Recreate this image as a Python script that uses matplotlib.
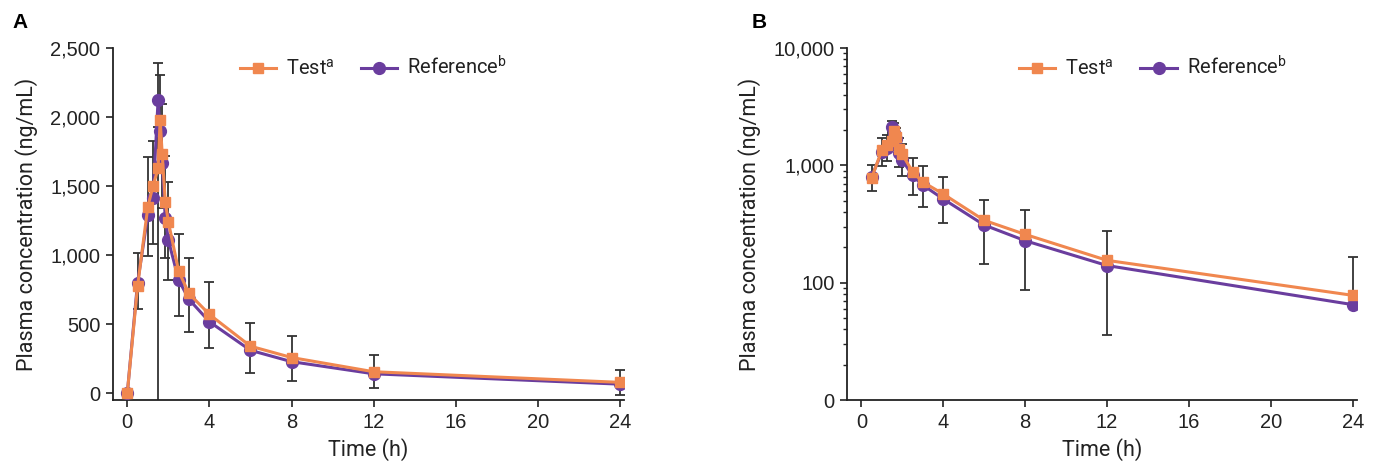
import numpy as np
import matplotlib.pyplot as plt
from matplotlib.ticker import FuncFormatter, LogLocator, NullFormatter

plt.rcParams['font.family'] = ['Roboto', 'DejaVu Sans']
plt.rcParams['mathtext.fontset'] = 'custom'
plt.rcParams['mathtext.rm'] = 'Roboto'

# time points (h)
times = np.array([0, 0.5, 1, 1.25, 1.5, 1.6, 1.7, 1.85, 2, 2.5, 3, 4, 6, 8, 12, 24])

# mean plasma concentrations (ng/mL)
test_mean = np.array([0, 775, 1350, 1500, 1628, 1978, 1732, 1386, 1241, 884, 722, 570, 340, 258, 155, 78])
ref_mean = np.array([0, 800, 1290, 1411, 2123, 1898, 1664, 1266, 1109, 820, 680, 517, 310, 228, 140, 65])

# standard deviations (test drawn upward, reference downward)
test_sd = np.array([0, 240, 360, 330, 300, 330, 360, 330, 290, 270, 260, 232, 167, 155, 120, 89])
ref_sd = np.array([0, 190, 300, 330, 270, 300, 320, 290, 290, 260, 236, 193, 165, 141, 104, 80])
# reference upward error at the 1.5 h peak
ref_sd_up = np.array([0, 0, 0, 0, 270, 0, 0, 0, 0, 0, 0, 0, 0, 0, 0, 0])
# lower error of reference in panel A (stray long bar at 1.5 h)
ref_sd_lo_a = ref_sd.copy()
ref_sd_lo_a[4] = 2300

ORANGE = '#F0874F'
PURPLE = '#6A3D9E'
ERR = '#333333'
TXT = '#222222'

fig = plt.figure(figsize=(13.79, 4.71), dpi=100)
axA = fig.add_axes([0.0819, 0.1507, 0.3706, 0.7473])
axB = fig.add_axes([0.6142, 0.1507, 0.3698, 0.7473])


def style_axis(ax):
    for s in ['top', 'right']:
        ax.spines[s].set_visible(False)
    for s in ['left', 'bottom']:
        ax.spines[s].set_linewidth(1.3)
        ax.spines[s].set_color('#222222')
    ax.tick_params(axis='both', which='major', direction='out', length=5, width=1.2,
                   labelsize=14.5, colors='#222222', labelcolor=TXT, pad=4)
    for lab in ax.get_xticklabels() + ax.get_yticklabels():
        lab.set_family(['Liberation Sans', 'DejaVu Sans'])
    ax.set_xlabel('Time (h)', fontsize=15.5, color=TXT, labelpad=5)
    ax.set_ylabel('Plasma concentration (ng/mL)', fontsize=15.5, color=TXT, labelpad=9)


def draw_series(ax, t, test, test_err, ref, ref_err):
    ax.errorbar(t, ref, yerr=ref_err, fmt='none', ecolor=ERR, elinewidth=1.3,
                capsize=3.5, capthick=1.3, zorder=2)
    ax.errorbar(t, test, yerr=test_err, fmt='none', ecolor=ERR, elinewidth=1.3,
                capsize=3.5, capthick=1.3, zorder=2)
    ax.plot(t, ref, color=PURPLE, lw=2.2, marker='o', markersize=8.5,
            label='Reference$^{\\mathrm{b}}$', zorder=3)
    ax.plot(t, test, color=ORANGE, lw=2.2, marker='s', markersize=7.5,
            label='Test$^{\\mathrm{a}}$', zorder=4)


def add_legend(ax, x):
    h, l = ax.get_legend_handles_labels()
    ax.legend(h[::-1], l[::-1], loc='center', bbox_to_anchor=(x, 0.946), ncol=2,
              frameon=False, fontsize=14.5, handlelength=1.8, columnspacing=1.3,
              handletextpad=0.5, labelcolor=TXT)


def one_sided(mean, lo, up):
    # hide lower bars that would drop below zero on the log axis
    return [np.where(mean - lo > 0, lo, 0), up]


# Panel A - linear
draw_series(axA, times, test_mean, [np.zeros_like(test_sd), test_sd],
            ref_mean, [ref_sd_lo_a, ref_sd_up])
axA.set_xlim(-0.7, 24.2)
axA.set_ylim(-50, 2500)
axA.set_xticks(np.arange(0, 25, 4))
axA.set_yticks(np.arange(0, 2501, 500))
axA.yaxis.set_major_formatter(FuncFormatter(lambda v, p: f'{v:,.0f}'))
style_axis(axA)
add_legend(axA, 0.51)

# Panel B - log (time 0 is left out)
tb = times[1:]
draw_series(axB, tb, test_mean[1:], [np.zeros_like(tb), test_sd[1:]],
            ref_mean[1:], one_sided(ref_mean[1:], ref_sd[1:], ref_sd_up[1:]))
axB.set_yscale('log')
axB.set_xlim(-0.7, 24.2)
axB.set_ylim(10, 10000)
axB.set_xticks(np.arange(0, 25, 4))
axB.set_yticks([10, 100, 1000, 10000])
axB.yaxis.set_minor_locator(LogLocator(base=10, subs=np.arange(2, 10)))
axB.yaxis.set_minor_formatter(NullFormatter())
axB.yaxis.set_major_formatter(FuncFormatter(lambda v, p: '0' if v <= 10 else f'{v:,.0f}'))
axB.tick_params(axis='y', which='minor', direction='out', length=3, width=1.0, colors='#222222')
style_axis(axB)
add_legend(axB, 0.60)

fig.text(12 / 1379, 1 - 22 / 471, 'A', fontsize=15, fontweight='bold',
         family=['Liberation Sans', 'DejaVu Sans'], va='center')
fig.text(752 / 1379, 1 - 22 / 471, 'B', fontsize=15, fontweight='bold',
         family=['Liberation Sans', 'DejaVu Sans'], va='center')

fig.savefig('out.png', dpi=100)
